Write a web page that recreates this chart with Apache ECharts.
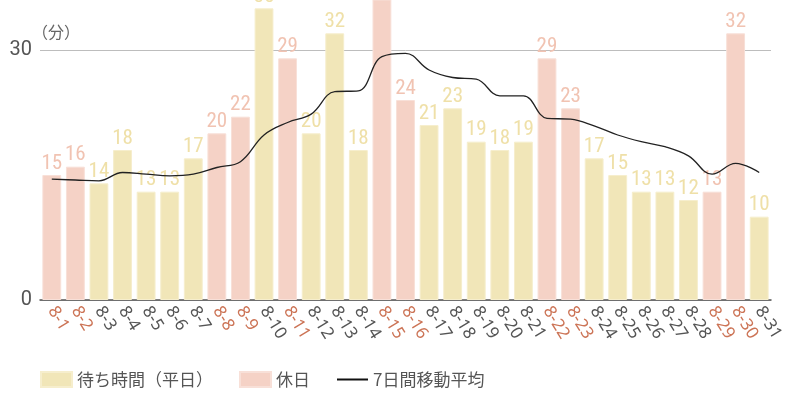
<!DOCTYPE html>
<html>
<head>
<meta charset="utf-8">
<script src="https://cdn.jsdelivr.net/npm/echarts@6/dist/echarts.min.js"></script>
<style>
html, body { margin: 0; padding: 0; background: #fff; }
#chart { width: 800px; height: 400px; }
</style>
</head>
<body>
<div id="chart"></div>
<script>
var dates = ['8-1','8-2','8-3','8-4','8-5','8-6','8-7','8-8','8-9','8-10','8-11','8-12','8-13','8-14','8-15','8-16',
	'8-17','8-18','8-19','8-20','8-21','8-22','8-23','8-24','8-25','8-26','8-27','8-28','8-29','8-30','8-31'];
var waits = [15,16,14,18,13,13,17,20,22,35,29,20,32,18,49,24,21,23,19,18,19,29,23,17,15,13,13,12,13,32,10];
var holidays = ['8-1','8-2','8-8','8-9','8-11','8-15','8-16','8-22','8-23','8-29','8-30'];
var ma7 = [14.5,14.4,14.3,15.3,15.1,14.9,15.1,15.9,16.6,19.8,21.3,22.3,25.0,25.1,29.2,29.6,
	27.6,26.7,26.5,24.5,24.5,21.8,21.7,20.9,19.8,19.0,18.4,17.3,15.1,16.4,15.3];
var yTicks = [0, 30];

var numFont = "'Roboto Condensed', 'Liberation Sans Narrow', 'Roboto', sans-serif";
var jpFont = "'Noto Sans CJK JP', sans-serif";

var weekdayVals = [];
var holidayVals = [];
for (let i = 0; i < dates.length; i++) {
	if (holidays.indexOf(dates[i]) >= 0) {
		weekdayVals.push('-');
		holidayVals.push(waits[i]);
	} else {
		weekdayVals.push(waits[i]);
		holidayVals.push('-');
	}
}

var option = {
	animation: false,
	grid: { left: 40, right: 29, top: 0, bottom: 100 },
	legend: {
		left: 35,
		top: 366,
		itemWidth: 31,
		itemHeight: 15,
		itemGap: 26,
		selectedMode: false,
		textStyle: { fontSize: 17, color: '#555', fontFamily: jpFont },
		data: [
			{ name: '待ち時間（平日）', icon: 'rect' },
			{ name: '休日', icon: 'rect' },
			{ name: '7日間移動平均', itemStyle: { opacity: 0 }, lineStyle: { width: 2, color: '#111' } }
		]
	},
	graphic: [
		{
			type: 'text',
			left: 32,
			top: 24,
			style: { text: '（分）', fontSize: 16, fill: '#666', fontFamily: jpFont }
		}
	],
	xAxis: {
		type: 'category',
		data: dates,
		axisTick: { show: false },
		axisLine: { lineStyle: { color: '#555', width: 1.5 } },
		axisLabel: {
			interval: 0,
			rotate: -58,
			margin: 8,
			fontSize: 17,
			fontFamily: "'Noto Sans', sans-serif",
			color: function (v) {
				return holidays.indexOf(v) >= 0 ? '#cc7456' : '#555';
			}
		}
	},
	yAxis: {
		type: 'value',
		min: 0,
		max: 36,
		interval: 30,
		axisLine: { show: false },
		axisTick: { show: false },
		splitLine: { showMaxLine: false, lineStyle: { color: '#bdbdbd', width: 1 } },
		axisLabel: {
			margin: 8,
			fontSize: 20,
			color: '#555',
			showMaxLabel: false,
			fontFamily: "'Roboto', sans-serif",
			formatter: function (v) { return yTicks.indexOf(v) >= 0 ? v : ''; }
		}
	},
	series: [
		{
			name: '待ち時間（平日）',
			type: 'bar',
			stack: 'w',
			data: weekdayVals,
			barWidth: '80%',
			clip: true,
			itemStyle: { color: '#f1e6b8', borderColor: '#f6eecd', borderWidth: 1 },
			label: {
				show: true,
				position: 'top',
				distance: 1,
				fontSize: 21,
				color: '#efe0a8',
				fontFamily: numFont
			}
		},
		{
			name: '休日',
			type: 'bar',
			stack: 'w',
			data: holidayVals,
			barWidth: '80%',
			clip: true,
			itemStyle: { color: '#f5d2c6', borderColor: '#f8e0d8', borderWidth: 1 },
			label: {
				show: true,
				position: 'top',
				distance: 1,
				fontSize: 21,
				color: '#f1c3b2',
				fontFamily: numFont
			}
		},
		{
			name: '7日間移動平均',
			type: 'line',
			data: ma7,
			smooth: 0.4,
			symbol: 'none',
			z: 5,
			color: '#222',
			lineStyle: { color: '#222', width: 1.3 }
		}
	]
};

var chart = echarts.init(document.getElementById('chart'));
chart.setOption(option);
</script>
</body>
</html>
